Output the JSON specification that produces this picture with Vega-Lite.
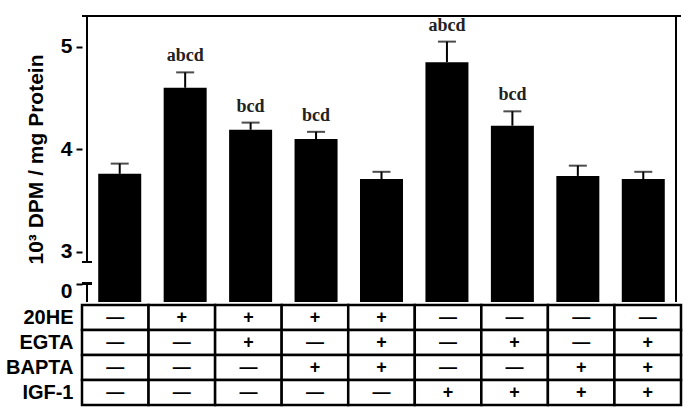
{
  "$schema": "https://vega.github.io/schema/vega-lite/v6.json",
  "padding": {"left": 5, "top": 15, "right": 6, "bottom": 10},
  "spacing": 0,
  "config": {"view": {"stroke": null}, "font": "Liberation Sans"},
  "datasets": {
    "bars": [
      {"i": 1, "v": 3.76, "hi": 3.86, "lab": ""},
      {"i": 2, "v": 4.60, "hi": 4.75, "lab": "abcd"},
      {"i": 3, "v": 4.19, "hi": 4.26, "lab": "bcd"},
      {"i": 4, "v": 4.10, "hi": 4.17, "lab": "bcd"},
      {"i": 5, "v": 3.71, "hi": 3.78, "lab": ""},
      {"i": 6, "v": 4.85, "hi": 5.05, "lab": "abcd"},
      {"i": 7, "v": 4.23, "hi": 4.37, "lab": "bcd"},
      {"i": 8, "v": 3.74, "hi": 3.84, "lab": ""},
      {"i": 9, "v": 3.71, "hi": 3.78, "lab": ""}
    ],
    "table": [
      {"c": 1, "r": "20HE", "s": "—"}, {"c": 2, "r": "20HE", "s": "+"}, {"c": 3, "r": "20HE", "s": "+"}, {"c": 4, "r": "20HE", "s": "+"}, {"c": 5, "r": "20HE", "s": "+"}, {"c": 6, "r": "20HE", "s": "—"}, {"c": 7, "r": "20HE", "s": "—"}, {"c": 8, "r": "20HE", "s": "—"}, {"c": 9, "r": "20HE", "s": "—"},
      {"c": 1, "r": "EGTA", "s": "—"}, {"c": 2, "r": "EGTA", "s": "—"}, {"c": 3, "r": "EGTA", "s": "+"}, {"c": 4, "r": "EGTA", "s": "—"}, {"c": 5, "r": "EGTA", "s": "+"}, {"c": 6, "r": "EGTA", "s": "—"}, {"c": 7, "r": "EGTA", "s": "+"}, {"c": 8, "r": "EGTA", "s": "—"}, {"c": 9, "r": "EGTA", "s": "+"},
      {"c": 1, "r": "BAPTA", "s": "—"}, {"c": 2, "r": "BAPTA", "s": "—"}, {"c": 3, "r": "BAPTA", "s": "—"}, {"c": 4, "r": "BAPTA", "s": "+"}, {"c": 5, "r": "BAPTA", "s": "+"}, {"c": 6, "r": "BAPTA", "s": "—"}, {"c": 7, "r": "BAPTA", "s": "—"}, {"c": 8, "r": "BAPTA", "s": "+"}, {"c": 9, "r": "BAPTA", "s": "+"},
      {"c": 1, "r": "IGF-1", "s": "—"}, {"c": 2, "r": "IGF-1", "s": "—"}, {"c": 3, "r": "IGF-1", "s": "—"}, {"c": 4, "r": "IGF-1", "s": "—"}, {"c": 5, "r": "IGF-1", "s": "—"}, {"c": 6, "r": "IGF-1", "s": "+"}, {"c": 7, "r": "IGF-1", "s": "+"}, {"c": 8, "r": "IGF-1", "s": "+"}, {"c": 9, "r": "IGF-1", "s": "+"}
    ]
  },
  "vconcat": [
    {
      "width": 599,
      "height": 286,
      "data": {"name": "bars"},
      "layer": [
        {
          "mark": {"type": "bar", "size": 43, "color": "black", "clip": true},
          "encoding": {
            "x": {"field": "i", "type": "quantitative", "scale": {"domain": [0.5, 9.5], "nice": false, "zero": false}, "axis": null},
            "y": {"field": "v", "type": "quantitative",
                  "scale": {"domain": [2.51, 5.30], "nice": false, "zero": false},
                  "axis": {"values": [2.69, 3, 4, 5], "domain": false, "grid": false,
                           "labelExpr": "datum.value < 2.8 ? '0' : format(datum.value, 'd')",
                           "labelFont": "Liberation Sans", "labelFontWeight": "bold", "labelFontSize": 21, "labelColor": "black",
                           "labelOffset": {"condition": {"test": "datum.value < 2.8", "value": 8}, "value": 0},
                           "tickSize": 6, "tickWidth": 2, "tickColor": "black", "labelPadding": 4,
                           "title": "10³ DPM / mg Protein", "titleFont": "Liberation Sans", "titleFontWeight": "bold", "titleFontSize": 21, "titleColor": "black", "titlePadding": 14}}
          }
        },
        {
          "mark": {"type": "rule", "color": "black", "strokeWidth": 2},
          "encoding": {"x": {"field": "i", "type": "quantitative"}, "y": {"field": "v", "type": "quantitative"}, "y2": {"field": "hi"}}
        },
        {
          "mark": {"type": "tick", "orient": "horizontal", "color": "black", "size": 18, "thickness": 2},
          "encoding": {"x": {"field": "i", "type": "quantitative"}, "y": {"field": "hi", "type": "quantitative"}}
        },
        {
          "mark": {"type": "text", "font": "Liberation Serif", "fontWeight": "bold", "fontSize": 18, "color": "#222", "baseline": "middle", "dy": -16},
          "encoding": {"x": {"field": "i", "type": "quantitative"}, "y": {"field": "hi", "type": "quantitative"}, "text": {"field": "lab"}}
        },
        {
          "mark": {"type": "rule", "color": "black", "strokeWidth": 2},
          "encoding": {"y": {"datum": 5.30, "type": "quantitative"}}
        },
        {
          "mark": {"type": "rule", "color": "black", "strokeWidth": 2},
          "encoding": {"x": {"datum": 0.5, "type": "quantitative"}, "y": {"datum": 2.90, "type": "quantitative"}, "y2": {"datum": 5.30}}
        },
        {
          "mark": {"type": "rule", "color": "black", "strokeWidth": 2},
          "encoding": {"x": {"datum": 0.5, "type": "quantitative"}, "y": {"datum": 2.51, "type": "quantitative"}, "y2": {"datum": 2.69}}
        },
        {
          "mark": {"type": "rule", "color": "black", "strokeWidth": 2},
          "encoding": {"x": {"datum": 9.5, "type": "quantitative"}, "y": {"datum": 2.51, "type": "quantitative"}, "y2": {"datum": 5.30}}
        },
        {
          "mark": {"type": "tick", "orient": "horizontal", "color": "black", "size": 10, "thickness": 2},
          "encoding": {"x": {"datum": 0.5, "type": "quantitative"}, "y": {"datum": 2.90, "type": "quantitative"}}
        },
        {
          "mark": {"type": "tick", "orient": "horizontal", "color": "black", "size": 10, "thickness": 2},
          "encoding": {"x": {"datum": 0.5, "type": "quantitative"}, "y": {"datum": 2.69, "type": "quantitative"}}
        }
      ]
    },
    {
      "width": 599,
      "height": 100,
      "data": {"name": "table"},
      "encoding": {
        "x": {"field": "c", "type": "ordinal", "scale": {"paddingInner": 0, "paddingOuter": 0}, "axis": null},
        "y": {"field": "r", "type": "nominal", "sort": ["20HE", "EGTA", "BAPTA", "IGF-1"],
              "scale": {"paddingInner": 0, "paddingOuter": 0},
              "axis": {"title": null, "domain": false, "ticks": false, "labelPadding": 9,
                       "labelFont": "Liberation Sans", "labelFontWeight": "bold", "labelFontSize": 20, "labelColor": "black"}}
      },
      "layer": [
        {"mark": {"type": "rect", "fill": "white", "stroke": "black", "strokeWidth": 2.5}},
        {"mark": {"type": "text", "font": "Liberation Sans", "fontWeight": "bold", "fontSize": 18, "color": "black"},
         "encoding": {"text": {"field": "s"}}}
      ]
    }
  ]
}
